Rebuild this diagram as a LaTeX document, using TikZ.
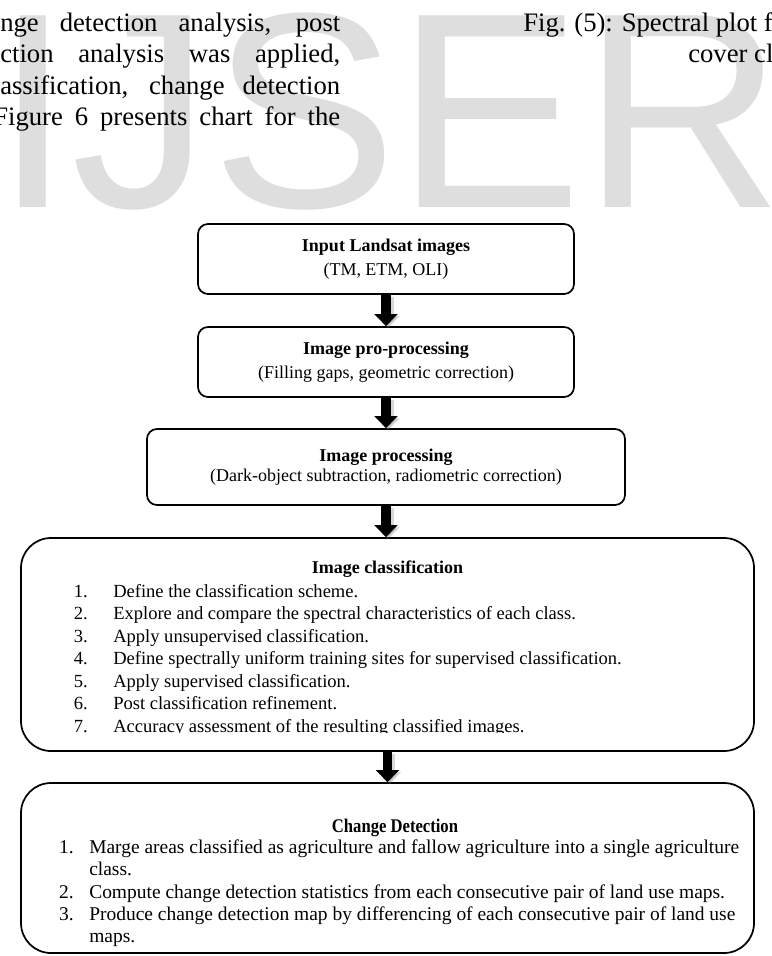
\documentclass[tikz,border=0pt]{standalone}
\usepackage{fontspec}
\setmainfont{Liberation Serif}
\newfontfamily\wmfont{Liberation Sans}
\usepackage{graphicx}
\usetikzlibrary{arrows.meta,positioning,calc}
\definecolor{ijWater}{HTML}{DEDEDE}
\definecolor{ijShade}{HTML}{7F7F7F}
\tikzset{
  >={Triangle[width=17pt,length=9pt]},
  stepbox/.style={draw=black, line width=1.3pt, rounded corners=7.5pt,
              fill=white, align=center, inner sep=0pt,
              font=\fontsize{13.5}{18}\selectfont},
  bigbox/.style={draw=black, line width=1.3pt, rounded corners=22.5pt,
              fill=white, inner sep=0pt},
  boxtitle/.style={font=\fontsize{13.5}{16}\selectfont\bfseries, anchor=base, inner sep=0pt},
  listnum/.style={anchor=base east, inner sep=0pt},
  listtext/.style={anchor=base west, inner sep=0pt},
  paratext/.style={font=\fontsize{20}{23}\selectfont, anchor=base west, inner sep=0pt},
  wmark/.style={font=\wmfont\fontsize{209}{209}\selectfont, text=ijWater,
              anchor=base west, inner sep=0pt},
  flow/.style={->, draw=black, line width=7pt},
  flowshade/.style={->, draw=ijShade, line width=8.5pt, opacity=0.3},
}

\begin{document}
\begin{tikzpicture}[x=0.75pt, y=-0.75pt]
  \path[use as bounding box, fill=white] (0,0) rectangle (771,956);
  % watermark behind the page text
  \node[wmark] (wm) at (-6,207) {IJSER};
  % running text of the page
  \node[paratext] (par1) at (0,32) {\makebox[255pt][s]{nge detection analysis, post}};
  \node[paratext] (par2) at (0,63) {\makebox[255pt][s]{ction analysis was applied,}};
  \node[paratext] (par3) at (0,94) {\makebox[255pt][s]{assification, change detection}};
  \node[paratext] (par4) at (-7,125) {\makebox[260.25pt][s]{Figure 6 presents chart for the}};
  \node[paratext] (cap1) at (523,32) {Fig. (5): Spectral plot f};
  \node[paratext] (cap2) at (688,63) {cover cl};

  % flow chart
  \node[stepbox, minimum width=282pt, minimum height=52.5pt] (input) at (386,259)
    {\textbf{Input Landsat images}\\(TM, ETM, OLI)};
  \node[stepbox, minimum width=282pt, minimum height=52.5pt] (prep) at (386,362)
    {\textbf{Image pro-processing}\\(Filling gaps, geometric correction)};
  \node[stepbox, minimum width=358.5pt, minimum height=57pt,
        font=\fontsize{13.5}{15}\selectfont] (proc) at (386,467)
    {\textbf{Image processing}\\(Dark-object subtraction, radiometric correction)};

  \node[bigbox, minimum width=549.75pt, minimum height=159.75pt] (classif) at (387.5,644.5) {};
  \node[boxtitle] (classifT) at (387.5,573) {Image classification};
  \begin{scope}[font=\fontsize{13.9}{16}\selectfont]
    \clip (21,538) rectangle (754,732.5);
    \foreach \i/\txt [count=\k from 0] in {
        1/Define the classification scheme.,
        2/Explore and compare the spectral characteristics of each class.,
        3/Apply unsupervised classification.,
        4/Define spectrally uniform training sites for supervised classification.,
        5/Apply supervised classification.,
        6/Post classification refinement.,
        7/Accuracy assessment of the resulting classified images.}{
      \node[listnum] (cn\i) at (88,{597+22.5*\k}) {\i.};
      \node[listtext] (ct\i) at (113,{597+22.5*\k}) {\txt};
    }
  \end{scope}

  \node[bigbox, minimum width=549.75pt, minimum height=127.5pt] (change) at (387.5,868) {};
  \node[boxtitle, font=\fontsize{14.5}{16}\selectfont\bfseries] (changeT) at (395,832)
    {\scalebox{0.86}[1]{Change Detection}};
  \begin{scope}[font=\fontsize{14.6}{17}\selectfont]
    \node[listnum] (dn1) at (74,853) {1.};
    \node[listtext] (dt1) at (89,853)
      {Marge areas classified as agriculture and fallow agriculture into a single agriculture};
    \node[listtext] (dt1b) at (89,875) {class.};
    \node[listnum] (dn2) at (74,898) {2.};
    \node[listtext] (dt2) at (89,898)
      {Compute change detection statistics from each consecutive pair of land use maps.};
    \node[listnum] (dn3) at (74,920) {3.};
    \node[listtext] (dt3) at (89,920)
      {Produce change detection map by differencing of each consecutive pair of land use};
    \node[listtext] (dt3b) at (89,942) {maps.};
  \end{scope}

  % arrows between the steps
  \foreach \a/\b in {input/prep, prep/proc, proc/classif, classif/change}{
    \draw[flowshade] ([shift={(2,2)}]\a.south) -- ([shift={(2,2)}]\a.south |- \b.north);
    \draw[flow] (\a.south) -- (\a.south |- \b.north);
  }
\end{tikzpicture}
\end{document}
